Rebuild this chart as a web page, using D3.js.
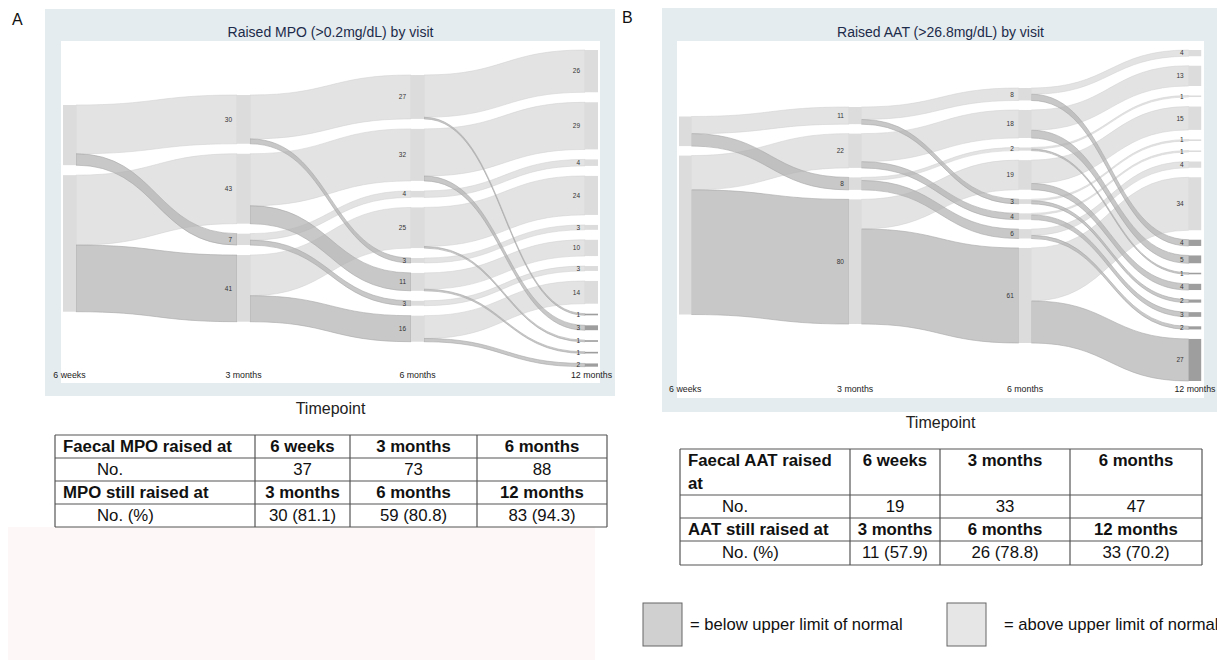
<!DOCTYPE html>
<html>
<head>
<meta charset="utf-8">
<script src="https://cdn.jsdelivr.net/npm/d3@7"></script>
<style>
  body { margin: 0; background: #fff; }
  text { font-family: "Liberation Sans", Arial, sans-serif; }
</style>
</head>
<body>
<svg id="fig" width="1217" height="660"></svg>
<script>
const timepoints = ["6 weeks", "3 months", "6 months", "12 months"];

// one entry per patient group: status at each visit (R = raised, N = not raised)
const mpoPaths  = ["RRRR", "RRRN", "NRRR", "NRRN", "RNRR", "NNRR", "NNRN",
                   "RRNR", "NRNR", "NRNN", "RNNR", "NNNR", "NNNN"];
const mpoCounts = [26, 1, 29, 3, 4, 24, 1, 3, 10, 1, 3, 14, 2];

const aatPaths  = ["RRRR", "RRRN", "NRRR", "NRRN", "RNRR", "RNRN", "NNRR", "NNRN",
                   "RRNR", "RRNN", "NRNR", "NRNN", "RNNR", "RNNN", "NNNR", "NNNN"];
const aatCounts = [4, 4, 13, 5, 1, 1, 15, 4, 1, 2, 1, 3, 4, 2, 34, 27];

// tables under the plots
const mpoHead  = ["Faecal MPO raised at", "6 weeks", "3 months", "6 months"];
const mpoNo    = ["No.", "37", "73", "88"];
const mpoStill = ["MPO still raised at", "3 months", "6 months", "12 months"];
const mpoPct   = ["No. (%)", "30 (81.1)", "59 (80.8)", "83 (94.3)"];

const aatHead  = [["Faecal AAT raised", "at"], "6 weeks", "3 months", "6 months"];
const aatNo    = ["No.", "19", "33", "47"];
const aatStill = ["AAT still raised at", "3 months", "6 months", "12 months"];
const aatPct   = ["No. (%)", "11 (57.9)", "26 (78.8)", "33 (70.2)"];

const legendLabels = ["= below upper limit of normal", "= above upper limit of normal"];

const svg = d3.select("#fig");
svg.append("rect").attr("width", 1217).attr("height", 660).attr("fill", "#fff");

// faint pink block under table A
svg.append("rect").attr("x", 8).attr("y", 527).attr("width", 587).attr("height", 133).attr("fill", "#fdf8f7");

function drawSankey(paths, counts, cfg) {
  const g = svg.append("g");
  g.append("rect").attr("x", cfg.frame[0]).attr("y", cfg.frame[1])
    .attr("width", cfg.frame[2] - cfg.frame[0]).attr("height", cfg.frame[3] - cfg.frame[1])
    .attr("fill", "#e5ecef");
  g.append("rect").attr("x", cfg.plot[0]).attr("y", cfg.plot[1])
    .attr("width", cfg.plot[2] - cfg.plot[0]).attr("height", cfg.plot[3] - cfg.plot[1])
    .attr("fill", "#fff");
  g.append("text").attr("x", (cfg.plot[0] + cfg.plot[2]) / 2).attr("y", 37)
    .attr("text-anchor", "middle").attr("font-size", 14).attr("fill", "#1c2b4a")
    .text(cfg.title);

  const total = d3.sum(counts);
  const orderKey = s => s.split("").reverse().map(ch => ch === "R" ? "0" : "1").join("");

  // nodes = groups sharing the same history up to that visit
  const cols = timepoints.map((t, c) => {
    const roll = d3.rollups(paths.map((p, i) => [p.slice(0, c + 1), counts[i]]),
      v => d3.sum(v, d => d[1]), d => d[0]);
    return roll.map(([id, value]) => ({ id, value, col: c, status: id[c] }))
      .sort((a, b) => d3.ascending(orderKey(a.id), orderKey(b.id)));
  });

  const maxN = d3.max(cols, c => c.length);
  const y = d3.scaleLinear().domain([0, total])
    .range([0, cfg.bottom - cfg.top - (maxN - 1) * cfg.gap]);
  const x = d3.scalePoint().domain(timepoints).range([cfg.x0, cfg.x1]);
  const mid = (cfg.top + cfg.bottom) / 2;

  cols.forEach((nodes, c) => {
    const h = y(total) + (nodes.length - 1) * cfg.gap;
    let yy = mid - h / 2;
    nodes.forEach(n => {
      n.x = x(timepoints[c]);
      n.y0 = yy;
      n.y1 = yy + y(n.value);
      n.out = n.y0;
      yy = n.y1 + cfg.gap;
    });
  });

  const byId = new Map(cols.flat().map(n => [n.id, n]));
  const links = [];
  cols.slice(1).forEach(nodes => nodes.forEach(t => {
    const s = byId.get(t.id.slice(0, -1));
    links.push({ s, t, value: t.value, status: t.status, sy0: s.out });
    s.out += y(t.value);
  }));

  function band(l) {
    const p = d3.path();
    const x0 = l.s.x + cfg.w, x1 = l.t.x, xm = (x0 + x1) / 2;
    const a0 = l.sy0, a1 = l.sy0 + y(l.value);
    p.moveTo(x0, a0);
    p.bezierCurveTo(xm, a0, xm, l.t.y0, x1, l.t.y0);
    p.lineTo(x1, l.t.y1);
    p.bezierCurveTo(xm, l.t.y1, xm, a1, x0, a1);
    p.closePath();
    return p.toString();
  }

  g.selectAll("path.light").data(links.filter(l => l.status === "R")).join("path")
    .attr("class", "light").attr("d", band)
    .attr("fill", "#dcdcdc").attr("fill-opacity", 0.8)
    .attr("stroke", "#cfcfcf").attr("stroke-width", 0.5);
  g.selectAll("path.dark").data(links.filter(l => l.status === "N")).join("path")
    .attr("class", "dark").attr("d", band)
    .attr("fill", "#b0b0b0").attr("fill-opacity", 0.7)
    .attr("stroke", "#a8a8a8").attr("stroke-width", 0.6);

  const allNodes = cols.flat();
  g.selectAll("rect.node").data(allNodes).join("rect")
    .attr("class", "node")
    .attr("x", d => d.x).attr("y", d => d.y0)
    .attr("width", cfg.w).attr("height", d => Math.max(1, d.y1 - d.y0))
    .attr("fill", d => (d.col === 3 && d.status === "N") ? "#9e9e9e" : "#dcdcdc");

  g.selectAll("text.val").data(allNodes.filter(d => d.col > 0)).join("text")
    .attr("class", "val")
    .attr("x", d => d.x - 5).attr("y", d => (d.y0 + d.y1) / 2)
    .attr("dy", "0.35em").attr("text-anchor", "end")
    .attr("font-size", 6.5).attr("fill", "#333")
    .text(d => d.value);

  g.selectAll("text.tp").data(timepoints).join("text")
    .attr("class", "tp")
    .attr("x", d => x(d) + cfg.w / 2).attr("y", cfg.labelY)
    .attr("text-anchor", "middle").attr("font-size", 8.8).attr("fill", "#222")
    .text(d => d);

  svg.append("text").attr("x", (cfg.plot[0] + cfg.plot[2]) / 2).attr("y", cfg.timepointY)
    .attr("text-anchor", "middle").attr("font-size", 16).attr("fill", "#222")
    .text("Timepoint");
}

drawSankey(mpoPaths, mpoCounts, {
  title: "Raised MPO (>0.2mg/dL) by visit",
  frame: [45, 9, 615, 396], plot: [61, 41, 600, 383],
  x0: 63, x1: 585, w: 13, top: 50, bottom: 366.7, gap: 10,
  labelY: 378, timepointY: 414
});

drawSankey(aatPaths, aatCounts, {
  title: "Raised AAT (>26.8mg/dL) by visit",
  frame: [662, 8, 1240, 412], plot: [677, 41, 1204, 398],
  x0: 679, x1: 1188.7, w: 12.5, top: 50, bottom: 381, gap: 9.5,
  labelY: 392, timepointY: 428
});

function drawTable(rows, xs, ys, boldRows) {
  const g = svg.append("g");
  rows.forEach((row, r) => {
    row.forEach((cell, c) => {
      const bold = boldRows.includes(r);
      const t = g.append("text")
        .attr("font-size", 16.8).attr("fill", "#111")
        .attr("font-weight", bold ? "bold" : "normal");
      if (c === 0) {
        t.attr("x", xs[0] + (bold ? 8 : 42)).attr("text-anchor", "start");
      } else {
        t.attr("x", (xs[c] + xs[c + 1]) / 2).attr("text-anchor", "middle");
      }
      const lines = Array.isArray(cell) ? cell : [cell];
      lines.forEach((ln, i) => {
        t.append("tspan").attr("x", t.attr("x")).attr("y", ys[r] + 17 + i * 23).text(ln);
      });
    });
  });
  const x0 = xs[0], x1 = xs[xs.length - 1], y0 = ys[0], y1 = ys[ys.length - 1];
  ys.forEach(yy => g.append("line").attr("x1", x0).attr("x2", x1).attr("y1", yy).attr("y2", yy)
    .attr("stroke", "#555").attr("stroke-width", 1.2));
  xs.forEach(xx => g.append("line").attr("x1", xx).attr("x2", xx).attr("y1", y0).attr("y2", y1)
    .attr("stroke", "#555").attr("stroke-width", 1.2));
}

drawTable([mpoHead, mpoNo, mpoStill, mpoPct], [55, 255, 350, 477, 607], [435, 458, 481, 504, 527], [0, 2]);
drawTable([aatHead, aatNo, aatStill, aatPct], [680, 850, 940, 1070, 1202], [449, 495, 518, 541, 565], [0, 2]);

// legend
const legend = svg.append("g");
const legendFill = ["#d0d0d0", "#e6e6e6"];
const legendX = [643, 947];
const legendTextX = [690, 1004];
legendLabels.forEach((lab, i) => {
  legend.append("rect").attr("x", legendX[i]).attr("y", 603).attr("width", 39).attr("height", 43)
    .attr("fill", legendFill[i]).attr("stroke", "#666").attr("stroke-width", 1);
  legend.append("text").attr("x", legendTextX[i]).attr("y", 630)
    .attr("font-size", 16.6).attr("fill", "#111").text(lab);
});

// panel letters
svg.append("text").attr("x", 12).attr("y", 25).attr("font-size", 16).attr("fill", "#111").text("A");
svg.append("text").attr("x", 622).attr("y", 23).attr("font-size", 16).attr("fill", "#111").text("B");
</script>
</body>
</html>
